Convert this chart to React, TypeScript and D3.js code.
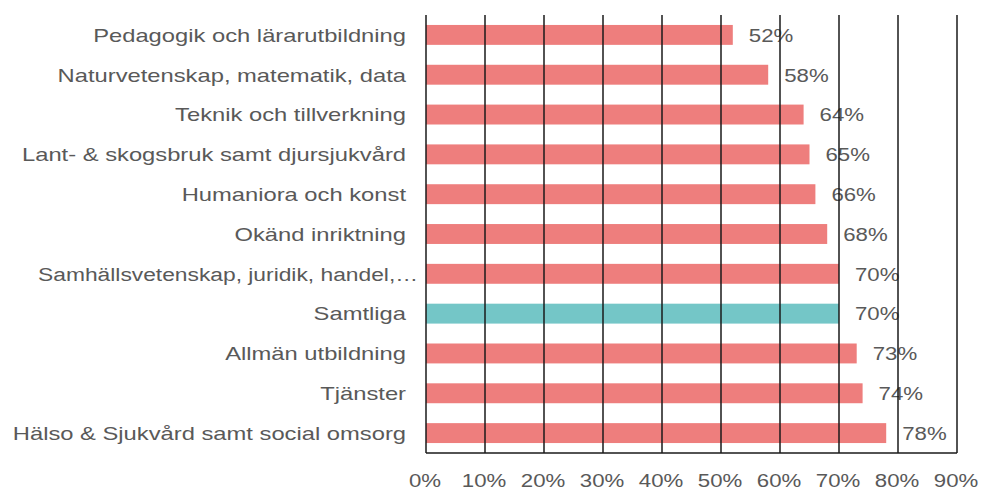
import { useEffect, useRef } from "react";
import * as d3 from "d3";

// kategorier uppifrån och ned
const categories = [
  "Pedagogik och lärarutbildning",
  "Naturvetenskap, matematik, data",
  "Teknik och tillverkning",
  "Lant- & skogsbruk samt djursjukvård",
  "Humaniora och konst",
  "Okänd inriktning",
  "Samhällsvetenskap, juridik, handel,…",
  "Samtliga",
  "Allmän utbildning",
  "Tjänster",
  "Hälso & Sjukvård samt social omsorg",
];
const values = [0.52, 0.58, 0.64, 0.65, 0.66, 0.68, 0.70, 0.70, 0.73, 0.74, 0.78];
const highlighted = ["Samtliga"];
const xTicks = [0, 0.1, 0.2, 0.3, 0.4, 0.5, 0.6, 0.7, 0.8, 0.9];

const App: React.FC = () => {
  const svgRef = useRef<any>();
  useEffect(() => {
    const width = 982;
    const height = 492;
    const left = 426;
    const right = 957;
    const top = 15;
    const bottom = 453;
    const font = "'Liberation Sans', Arial, sans-serif";
    const textColor = "#595959";
    // texten i originalet är något utdragen på bredden
    const labelStretch = 1.25;
    const numStretch = 1.17;

    const svg = d3.select(svgRef.current);
    svg.selectAll("*").remove();
    svg.attr("width", width).attr("height", height);

    const x = d3.scaleLinear().domain([0, 0.9]).range([left, right]);
    const y = d3.scaleBand().domain(categories).range([top, bottom]).paddingInner(0.5).paddingOuter(0.25);
    const pct = d3.format(".0%");

    // Bars
    svg.append("g")
      .selectAll("rect")
      .data(categories)
      .enter()
      .append("rect")
      .attr("x", x(0))
      .attr("y", (d) => y(d)!)
      .attr("width", (d, i) => x(values[i]) - x(0))
      .attr("height", y.bandwidth())
      .attr("fill", (d) => (highlighted.includes(d) ? "#74C6C7" : "#EE7E7D"));

    // Value labels
    svg.append("g")
      .selectAll("text")
      .data(categories)
      .enter()
      .append("text")
      .attr("transform", (d, i) => `translate(${x(values[i]) + 16},${y(d)! + y.bandwidth() / 2}) scale(${numStretch},1)`)
      .attr("dy", "0.36em")
      .attr("font-family", font)
      .attr("font-size", 19)
      .attr("fill", textColor)
      .text((d, i) => pct(values[i]));

    // Grid lines
    svg.append("g")
      .selectAll("line")
      .data(xTicks)
      .enter()
      .append("line")
      .attr("x1", (d) => x(d))
      .attr("x2", (d) => x(d))
      .attr("y1", top)
      .attr("y2", bottom)
      .attr("stroke", "#1a1a1a")
      .attr("stroke-width", 1.5);

    svg.append("line")
      .attr("x1", left)
      .attr("x2", right)
      .attr("y1", bottom)
      .attr("y2", bottom)
      .attr("stroke", "#1a1a1a")
      .attr("stroke-width", 1.5);

    // X tick labels
    svg.append("g")
      .selectAll("text")
      .data(xTicks)
      .enter()
      .append("text")
      .attr("transform", (d) => `translate(${x(d) - 1},480) scale(${numStretch},1)`)
      .attr("dy", "0.36em")
      .attr("text-anchor", "middle")
      .attr("font-family", font)
      .attr("font-size", 19)
      .attr("fill", textColor)
      .text((d) => pct(d));

    // Category labels (den avkortade etiketten går ända fram till axeln)
    svg.append("g")
      .selectAll("text")
      .data(categories)
      .enter()
      .append("text")
      .attr("transform", (d) => `translate(${d.endsWith("…") ? 418 : 406},${y(d)! + y.bandwidth() / 2}) scale(${d.endsWith("…") ? 1.2 : labelStretch},1)`)
      .attr("dy", "0.36em")
      .attr("text-anchor", "end")
      .attr("font-family", font)
      .attr("font-size", 19)
      .attr("fill", textColor)
      .text((d) => d);
  }, []);

  return (
    <svg ref={svgRef} style={{ position: "absolute", left: 0, top: 0, width: 982, height: 492 }}></svg>
  );
};

export default App;
